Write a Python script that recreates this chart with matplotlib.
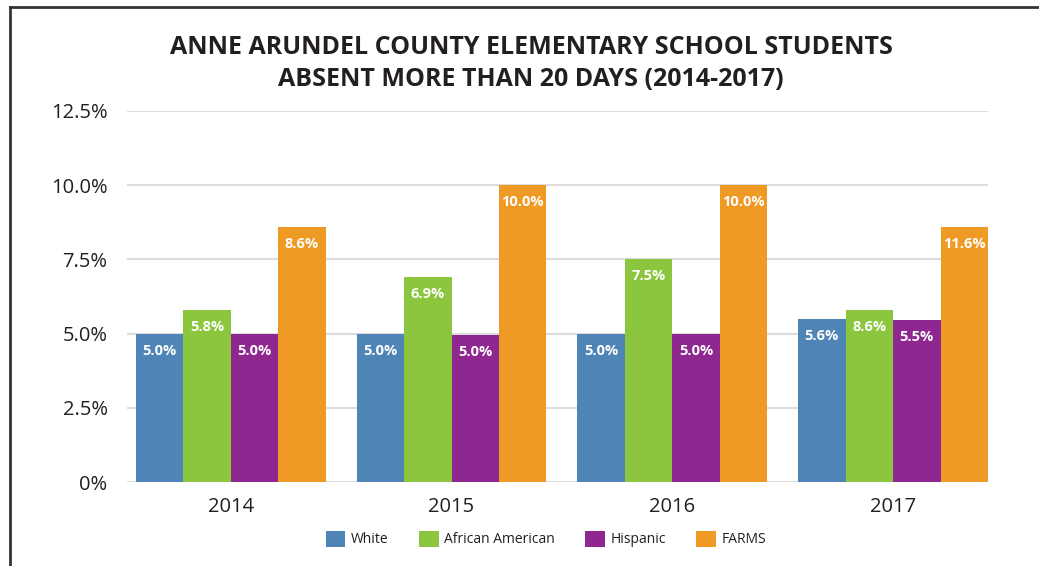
import matplotlib.pyplot as plt
import numpy as np
from matplotlib.lines import Line2D
from matplotlib.patches import Patch

# donnees
annees = ['2014', '2015', '2016', '2017']
groupes = ['White', 'African American', 'Hispanic', 'FARMS']
white = [5.0, 5.0, 5.0, 5.5]
african_american = [5.8, 6.9, 7.5, 5.8]
hispanic = [5.0, 4.95, 5.0, 5.45]
farms = [8.6, 10.0, 10.0, 8.6]
# etiquettes imprimees sur les barres (pas toujours egales a la hauteur)
lab_white = ['5.0%', '5.0%', '5.0%', '5.6%']
lab_aa = ['5.8%', '6.9%', '7.5%', '8.6%']
lab_hisp = ['5.0%', '5.0%', '5.0%', '5.5%']
lab_farms = ['8.6%', '10.0%', '10.0%', '11.6%']
yticks = [0, 2.5, 5.0, 7.5, 10.0, 12.5]
ytick_labels = ['0%', '2.5%', '5.0%', '7.5%', '10.0%', '12.5%']

couleurs = ['#4f84b6', '#8cc63f', '#8e278f', '#f09a26']
series = [white, african_american, hispanic, farms]
etiquettes = [lab_white, lab_aa, lab_hisp, lab_farms]

plt.rcParams['font.family'] = ['Open Sans', 'DejaVu Sans']
texte = '#231f20'

fig = plt.figure(figsize=(10.39, 5.66), dpi=100)
ax = fig.add_axes([127 / 1039, 1 - 482 / 566, (988 - 127) / 1039, (482 - 111) / 566])

x = np.arange(len(annees))
larg = 0.215
for i, (vals, coul, labs) in enumerate(zip(series, couleurs, etiquettes)):
    pos = x + (i - 1.5) * larg
    ax.bar(pos, vals, width=larg, color=coul, zorder=3)
    for p, v, l in zip(pos, vals, labs):
        ax.annotate(l, (p, v), xytext=(0, -17), textcoords='offset pixels',
                    ha='center', va='center', color='white', fontsize=10.5,
                    fontweight='bold', zorder=4)

ax.set_xlim(-0.47, 3.43)
ax.set_ylim(0, 12.5)
ax.set_yticks(yticks)
ax.set_yticklabels(ytick_labels)
ax.set_xticks(x)
ax.set_xticklabels(annees)
ax.tick_params(length=0, labelsize=14.5, colors=texte)
ax.tick_params(axis='y', pad=14)
ax.tick_params(axis='x', pad=11)
ax.grid(axis='y', color='#dcdcdc', linewidth=1.5, zorder=0)
ax.set_axisbelow(True)
for s in ax.spines.values():
    s.set_visible(False)

fig.text(531 / 1039, 1 - 47 / 566, 'ANNE ARUNDEL COUNTY ELEMENTARY SCHOOL STUDENTS',
         ha='center', va='center', fontsize=18, fontweight='bold', color=texte)
fig.text(531 / 1039, 1 - 79 / 566, 'ABSENT MORE THAN 20 DAYS (2014-2017)',
         ha='center', va='center', fontsize=18, fontweight='bold', color=texte)

poignees = [Patch(facecolor=c, label=g) for c, g in zip(couleurs, groupes)]
fig.legend(handles=poignees, loc='center', bbox_to_anchor=(546 / 1039, 1 - 539 / 566),
           ncol=4, frameon=False, fontsize=10, handlelength=1.4, handleheight=1.4,
           columnspacing=2.2, handletextpad=0.4, labelcolor=texte)

# cadre
fig.add_artist(Line2D([10 / 1039, 10 / 1039], [0, 1 - 7 / 566], color='#333333', linewidth=2))
fig.add_artist(Line2D([10 / 1039, 1], [1 - 7 / 566, 1 - 7 / 566], color='#333333', linewidth=2))

fig.savefig('out.png', dpi=100)
